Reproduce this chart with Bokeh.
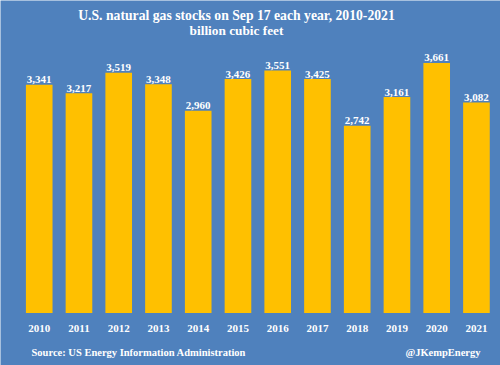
from bokeh.plotting import figure
from bokeh.models import ColumnDataSource, Range1d, Label
from bokeh.core.properties import value
from bokeh.embed import file_html
from bokeh.resources import INLINE

years = [2010, 2011, 2012, 2013, 2014, 2015, 2016, 2017, 2018, 2019, 2020, 2021]
stocks = [3341, 3217, 3519, 3348, 2960, 3426, 3551, 3425, 2742, 3161, 3661, 3082]
labels = [f"{v:,}" for v in stocks]
year_labels = [str(y) for y in years]

title_text = "U.S. natural gas stocks on Sep 17 each year, 2010-2021"
subtitle_text = "billion cubic feet"
source_text = "Source: US Energy Information Administration"
handle_text = "@JKempEnergy"

BG = "#4f81bd"
BAR = "#ffc000"
FONT = "Liberation Serif"

src = ColumnDataSource(dict(year=years, stock=stocks, label=labels,
                            ylab=year_labels, base=[0] * len(years)))

W, H = 500, 365
p = figure(width=W, height=H, output_backend="svg", toolbar_location=None,
           x_range=Range1d(2009.026, 2021.605), y_range=Range1d(-768.7, 4575.4),
           min_border_left=0, min_border_right=0, min_border_top=0,
           min_border_bottom=0, x_axis_location=None, y_axis_location=None)
p.background_fill_color = BG
p.border_fill_color = BG
p.outline_line_color = None
p.grid.visible = False

p.vbar(x="year", top="stock", width=0.67, bottom=0, source=src,
       fill_color=BAR, line_color=None)

p.text(x="year", y="stock", text="label", source=src, text_align="center",
       text_baseline="alphabetic", y_offset=-5, text_color="white",
       text_font=value(FONT), text_font_style="bold", text_font_size="11px")

p.text(x="year", y="base", text="ylab", source=src, text_align="center",
       text_baseline="alphabetic", y_offset=15.8, text_color="white",
       text_font=value(FONT), text_font_style="bold", text_font_size="11px")

def add_label(x, y, text, align, size):
    p.add_layout(Label(x=x, y=y, x_units="screen", y_units="screen",
                       text=text, text_align=align, text_baseline="alphabetic",
                       text_color="white", text_font=FONT, text_font_style="bold",
                       text_font_size=size))

add_label(236, H - 15, title_text, "center", "13.7px")
add_label(236, H - 30, subtitle_text, "center", "13.3px")
add_label(31, H - 351.7, source_text, "left", "10.5px")
add_label(480, H - 351.7, handle_text, "right", "10.5px")

open("out.html", "w").write(file_html(p, INLINE))
